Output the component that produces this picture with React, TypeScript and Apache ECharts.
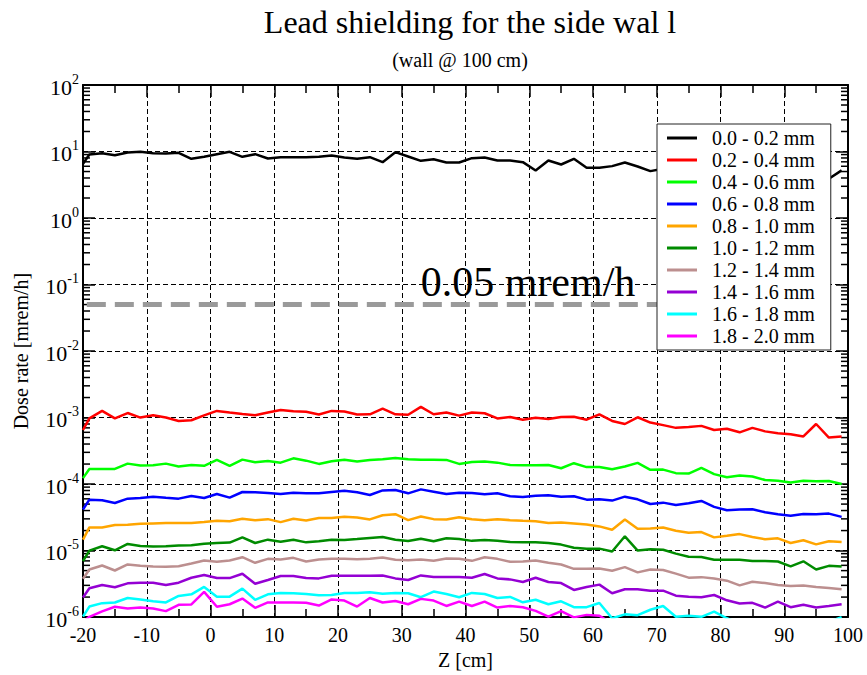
import React, { useEffect, useRef } from "react";
import * as echarts from "echarts";

const FONT = "Liberation Serif";

// Z positions of the samples [cm]
const Z = [-20, -19, -17, -15, -13, -11, -9, -7, -5, -3, -1, 1, 3, 5, 7, 9, 11, 13, 15, 17, 19, 21, 23, 25, 27, 29, 31, 33, 35, 37, 39, 41, 43, 45, 47, 49, 51, 53, 55, 57, 59, 61, 63, 65, 67, 69, 71, 73, 75, 77, 79, 81, 83, 85, 87, 89, 91, 93, 95, 97, 99];

const S00_02 = [6.53, 9.02, 9.44, 8.81, 9.66, 9.89, 9.44, 9.33, 9.55, 7.76, 8.32, 9.12, 9.89, 8.32, 9.12, 7.85, 8.22, 8.22, 8.22, 8.32, 8.71, 8.13, 7.76, 8.22, 6.92, 9.77, 8.41, 7.24, 7.67, 6.84, 6.84, 7.94, 8.13, 7.33, 7.33, 6.92, 5.19, 7.33, 6.38, 7.76, 5.69, 5.69, 6.03, 6.84, 5.96, 5.07, 5.5, 5.2, 4.9, 5.3, 4.7, 4.5, 4.8, 4.4, 4.2, 4.6, 4.1, 4.3, 4.0, 3.9, 5.2];
const S02_04 = [6.5e-4, 9.7e-4, 1.26e-3, 9.7e-4, 1.17e-3, 1.0e-3, 1.08e-3, 1.0e-3, 8.9e-4, 9.1e-4, 1.08e-3, 1.26e-3, 1.19e-3, 1.13e-3, 1.08e-3, 1.19e-3, 1.3e-3, 1.24e-3, 1.22e-3, 1.11e-3, 1.26e-3, 1.23e-3, 1.11e-3, 1.12e-3, 1.36e-3, 1.12e-3, 1.1e-3, 1.45e-3, 1.12e-3, 1.19e-3, 1.07e-3, 1.19e-3, 1.16e-3, 9.7e-4, 1.02e-3, 9.3e-4, 9.9e-4, 9.5e-4, 1.02e-3, 1.03e-3, 9.3e-4, 1.12e-3, 8.9e-4, 8.0e-4, 1.01e-3, 8.4e-4, 7.7e-4, 7.0e-4, 7.2e-4, 7.5e-4, 6.5e-4, 6.8e-4, 6.0e-4, 7.0e-4, 6.2e-4, 5.8e-4, 5.6e-4, 5.2e-4, 8.0e-4, 5.0e-4, 5.2e-4];
const S04_06 = [1.23e-4, 1.69e-4, 1.69e-4, 1.69e-4, 2.03e-4, 1.9e-4, 1.92e-4, 2.03e-4, 1.84e-4, 1.94e-4, 1.88e-4, 2.31e-4, 1.88e-4, 2.33e-4, 2.13e-4, 2.23e-4, 2.1e-4, 2.44e-4, 2.25e-4, 2.01e-4, 2.2e-4, 2.33e-4, 2.18e-4, 2.31e-4, 2.36e-4, 2.47e-4, 2.36e-4, 2.33e-4, 2.33e-4, 2.31e-4, 2.01e-4, 2.15e-4, 2.18e-4, 2.1e-4, 1.94e-4, 1.92e-4, 1.92e-4, 1.94e-4, 1.73e-4, 2.06e-4, 1.8e-4, 1.8e-4, 1.67e-4, 1.84e-4, 2.08e-4, 1.64e-4, 1.65e-4, 1.46e-4, 1.44e-4, 1.75e-4, 1.41e-4, 1.27e-4, 1.35e-4, 1.3e-4, 1.15e-4, 1.12e-4, 1.06e-4, 1.12e-4, 1.1e-4, 1.11e-4, 1.0e-4];
const S06_08 = [4.14e-5, 5.83e-5, 5.7e-5, 5.2e-5, 6.04e-5, 6.18e-5, 6.47e-5, 6.25e-5, 6.04e-5, 6.62e-5, 6.18e-5, 7.1e-5, 6.25e-5, 7.6e-5, 7.51e-5, 7.34e-5, 7.1e-5, 7.42e-5, 7.26e-5, 7.26e-5, 7.6e-5, 7.95e-5, 7.51e-5, 6.85e-5, 8.04e-5, 8.13e-5, 7.26e-5, 8.32e-5, 7.69e-5, 7.1e-5, 7.42e-5, 7.34e-5, 7.01e-5, 7.26e-5, 6.55e-5, 6.4e-5, 6.7e-5, 6.77e-5, 6.47e-5, 6.55e-5, 5.83e-5, 5.9e-5, 5.64e-5, 6.47e-5, 5.9e-5, 5.02e-5, 5.26e-5, 4.86e-5, 5.14e-5, 5.57e-5, 4.54e-5, 4.05e-5, 4.14e-5, 4.18e-5, 3.78e-5, 3.52e-5, 3.33e-5, 3.56e-5, 3.52e-5, 3.6e-5, 3.21e-5];
const S08_10 = [1.46e-5, 2.23e-5, 2.23e-5, 2.42e-5, 2.44e-5, 2.53e-5, 2.56e-5, 2.59e-5, 2.59e-5, 2.59e-5, 2.68e-5, 2.81e-5, 2.77e-5, 3.01e-5, 2.87e-5, 2.97e-5, 2.68e-5, 3.01e-5, 2.84e-5, 3.08e-5, 3.08e-5, 3.22e-5, 3.15e-5, 2.94e-5, 3.4e-5, 3.52e-5, 2.87e-5, 3.25e-5, 2.97e-5, 2.94e-5, 3.18e-5, 2.97e-5, 2.87e-5, 2.97e-5, 2.87e-5, 2.81e-5, 2.77e-5, 2.59e-5, 2.65e-5, 2.56e-5, 2.47e-5, 2.31e-5, 2.06e-5, 2.94e-5, 2.13e-5, 2.15e-5, 2.23e-5, 1.99e-5, 1.86e-5, 1.9e-5, 1.58e-5, 1.67e-5, 1.77e-5, 1.6e-5, 1.48e-5, 1.53e-5, 1.3e-5, 1.43e-5, 1.24e-5, 1.38e-5, 1.35e-5];
const S10_12 = [6.93e-6, 1.0e-5, 1.16e-5, 1.01e-5, 1.26e-5, 1.17e-5, 1.15e-5, 1.16e-5, 1.19e-5, 1.2e-5, 1.27e-5, 1.3e-5, 1.32e-5, 1.58e-5, 1.3e-5, 1.46e-5, 1.36e-5, 1.46e-5, 1.33e-5, 1.38e-5, 1.46e-5, 1.44e-5, 1.49e-5, 1.55e-5, 1.6e-5, 1.46e-5, 1.39e-5, 1.51e-5, 1.38e-5, 1.53e-5, 1.49e-5, 1.4e-5, 1.44e-5, 1.41e-5, 1.35e-5, 1.33e-5, 1.33e-5, 1.3e-5, 1.23e-5, 1.1e-5, 1.07e-5, 1.07e-5, 9.7e-6, 1.64e-5, 1.0e-5, 1.05e-5, 1.03e-5, 9.0e-6, 8.1e-6, 8.0e-6, 7.3e-6, 7.3e-6, 7.3e-6, 6.95e-6, 6.95e-6, 6.85e-6, 5.8e-6, 6.9e-6, 5.2e-6, 5.9e-6, 5.75e-6];
const S12_14 = [3.78e-6, 5.2e-6, 5.97e-6, 5.02e-6, 6.18e-6, 5.9e-6, 5.77e-6, 5.7e-6, 5.83e-6, 6.4e-6, 7.1e-6, 6.78e-6, 7.1e-6, 7.95e-6, 6.55e-6, 7.51e-6, 7.34e-6, 7.78e-6, 6.85e-6, 7.34e-6, 7.51e-6, 7.51e-6, 7.42e-6, 7.51e-6, 7.86e-6, 7.26e-6, 7.18e-6, 7.34e-6, 7.01e-6, 7.6e-6, 7.51e-6, 7.01e-6, 7.95e-6, 7.51e-6, 6.78e-6, 6.85e-6, 7.1e-6, 6.55e-6, 6.18e-6, 5.32e-6, 5.32e-6, 5.38e-6, 4.97e-6, 5.64e-6, 4.7e-6, 5.2e-6, 5.1e-6, 4.5e-6, 3.92e-6, 3.99e-6, 3.8e-6, 3.53e-6, 3.0e-6, 3.4e-6, 3.25e-6, 3.05e-6, 2.93e-6, 2.98e-6, 2.83e-6, 2.73e-6, 2.63e-6];
const S14_16 = [1.97e-6, 2.71e-6, 3.04e-6, 2.81e-6, 3.22e-6, 3.29e-6, 3.29e-6, 3.04e-6, 3.29e-6, 3.91e-6, 4.29e-6, 3.86e-6, 3.86e-6, 4.49e-6, 3.18e-6, 3.61e-6, 4.14e-6, 4.14e-6, 3.86e-6, 3.82e-6, 4.18e-6, 4.18e-6, 4.18e-6, 4.18e-6, 4.23e-6, 3.82e-6, 3.61e-6, 4.23e-6, 4.0e-6, 4.0e-6, 4.0e-6, 3.91e-6, 4.44e-6, 3.82e-6, 3.69e-6, 3.37e-6, 3.91e-6, 3.37e-6, 3.25e-6, 2.56e-6, 2.84e-6, 3.08e-6, 2.28e-6, 2.62e-6, 2.62e-6, 2.5e-6, 2.5e-6, 2.1e-6, 2.03e-6, 1.99e-6, 2.15e-6, 1.79e-6, 1.6e-6, 1.64e-6, 1.39e-6, 1.71e-6, 1.41e-6, 1.53e-6, 1.39e-6, 1.47e-6, 1.56e-6];
const S16_18 = [1.02e-6, 1.44e-6, 1.62e-6, 1.66e-6, 1.94e-6, 1.84e-6, 1.73e-6, 1.66e-6, 2.08e-6, 2.2e-6, 2.84e-6, 2.03e-6, 2.03e-6, 2.68e-6, 1.82e-6, 2.2e-6, 2.31e-6, 2.28e-6, 2.23e-6, 2.13e-6, 2.15e-6, 2.31e-6, 2.31e-6, 2.36e-6, 2.25e-6, 2.31e-6, 2.28e-6, 1.99e-6, 2.42e-6, 2.23e-6, 1.99e-6, 2.31e-6, 2.23e-6, 1.94e-6, 2.01e-6, 1.67e-6, 1.82e-6, 1.56e-6, 1.73e-6, 1.41e-6, 1.41e-6, 1.63e-6, 0.96e-6, 1.1e-6, 1.07e-6, 1.29e-6, 1.47e-6, 1.01e-6, 1.05e-6, 1.01e-6, 1.21e-6, 0.96e-6, 0.8e-6, 0.82e-6, 0.78e-6, 0.8e-6, 0.76e-6, 0.79e-6, 0.8e-6, 0.85e-6, 1.0e-6];
const S18_20 = [0.85e-6, 1.01e-6, 1.22e-6, 1.43e-6, 1.35e-6, 1.39e-6, 1.35e-6, 1.23e-6, 1.53e-6, 1.55e-6, 2.39e-6, 1.43e-6, 1.56e-6, 1.9e-6, 1.38e-6, 1.66e-6, 1.66e-6, 1.66e-6, 1.64e-6, 1.49e-6, 1.84e-6, 1.77e-6, 1.44e-6, 1.94e-6, 1.66e-6, 1.75e-6, 1.56e-6, 1.88e-6, 1.77e-6, 1.47e-6, 1.71e-6, 1.47e-6, 1.71e-6, 1.39e-6, 1.47e-6, 1.41e-6, 1.24e-6, 1.02e-6, 1.23e-6, 0.99e-6, 1.08e-6, 1.05e-6, 0.8e-6, 0.75e-6, 0.72e-6, 0.7e-6, 0.72e-6, 0.7e-6, 0.68e-6, 0.7e-6, 0.66e-6, 0.65e-6, 0.64e-6, 0.62e-6, 0.6e-6, 0.62e-6, 0.6e-6, 0.58e-6, 0.6e-6, 0.57e-6, 0.58e-6];

const NAMES = ["0.0 - 0.2 mm", "0.2 - 0.4 mm", "0.4 - 0.6 mm", "0.6 - 0.8 mm", "0.8 - 1.0 mm", "1.0 - 1.2 mm", "1.2 - 1.4 mm", "1.4 - 1.6 mm", "1.6 - 1.8 mm", "1.8 - 2.0 mm"];
const VALUES = [S00_02, S02_04, S04_06, S06_08, S08_10, S10_12, S12_14, S14_16, S16_18, S18_20];
const COLORS = ["#000000", "#ff0000", "#00ff00", "#0000ff", "#ffa500", "#008b00", "#bc8f8f", "#9400d3", "#00ffff", "#ff00ff"];

const LIMIT = 0.05;
const LIMIT_Z = [-19.4, 90];
const LIMIT_LABEL = "0.05 mrem/h";

const X_MIN = -20;
const X_MAX = 100;
const Y_MIN = 1e-6;
const Y_MAX = 100;
const DECADES = [-6, -5, -4, -3, -2, -1, 0, 1];
const MINOR_MULT = [2, 3, 4, 5, 6, 7, 8, 9];

export default function App() {
  const ref = useRef<HTMLDivElement>(null);
  useEffect(() => {
    if (!ref.current) return;
    const chart = echarts.init(ref.current, null, { renderer: "svg" });
    const minorTicks: number[][] = [];
    DECADES.forEach((d) => MINOR_MULT.forEach((m) => minorTicks.push([X_MIN, m * Math.pow(10, d)])));

    const axisLine = { show: true, onZero: false, lineStyle: { color: "#000", width: 2 } };
    const xTick = { show: true, inside: true, length: 12, lineStyle: { color: "#000", width: 1.5 } };
    const xMinor = { show: true, splitNumber: 2, length: 8, lineStyle: { color: "#000", width: 1.5 } };
    const grid = { show: true, lineStyle: { color: "#000", type: [5, 3], width: 1 } };

    const series: any[] = VALUES.map((vals, i) => ({
      name: NAMES[i],
      type: "line",
      data: Z.map((z, j) => [z, vals[j]]),
      symbol: "none",
      showSymbol: false,
      clip: true,
      lineStyle: { color: COLORS[i], width: 2.5 },
      itemStyle: { color: COLORS[i] },
      z: 3,
    }));
    series.push({
      name: "limit",
      type: "line",
      data: LIMIT_Z.map((z) => [z, LIMIT]),
      symbol: "none",
      silent: true,
      lineStyle: { color: "#9a9a9a", width: 5, type: [19, 9] },
      z: 2,
    });
    series.push({
      name: "minor",
      type: "custom",
      data: minorTicks,
      encode: { x: 0, y: 1 },
      silent: true,
      clip: false,
      renderItem: (params: any, api: any) => {
        const v = api.value(1);
        const pl = api.coord([X_MIN, v]);
        const pr = api.coord([X_MAX, v]);
        const st = { stroke: "#000", lineWidth: 1.5 };
        return {
          type: "group",
          children: [
            { type: "line", shape: { x1: pl[0], y1: pl[1], x2: pl[0] + 7, y2: pl[1] }, style: st },
            { type: "line", shape: { x1: pr[0] - 7, y1: pr[1], x2: pr[0], y2: pr[1] }, style: st },
          ],
        };
      },
    });

    chart.setOption({
      animation: false,
      backgroundColor: "#fff",
      textStyle: { fontFamily: FONT },
      grid: { left: 83, top: 85, width: 765, height: 536, containLabel: false },
      graphic: [
        { type: "text", x: 470, y: 22, style: { text: "Lead shielding for the side wal l", fontFamily: FONT, fontSize: 32, fill: "#000", align: "center", verticalAlign: "middle" } },
        { type: "text", x: 460, y: 60, style: { text: "(wall @ 100 cm)", fontFamily: FONT, fontSize: 20, fill: "#000", align: "center", verticalAlign: "middle" } },
        { type: "text", x: 528, y: 282, z: 1, style: { text: LIMIT_LABEL, fontFamily: FONT, fontSize: 42, fill: "#000", align: "center", verticalAlign: "middle" } },
      ],
      legend: {
        data: NAMES,
        orient: "vertical",
        left: 657,
        top: 124,
        padding: [4, 16, 4, 10],
        itemGap: 2,
        itemWidth: 30,
        itemHeight: 3,
        icon: "rect",
        backgroundColor: "#fff",
        borderColor: "#222",
        borderWidth: 1,
        borderRadius: 0,
        textStyle: { fontFamily: FONT, fontSize: 20, color: "#000", padding: [0, 0, 0, 10] },
        z: 10,
      },
      xAxis: [
        {
          type: "value", min: X_MIN, max: X_MAX, interval: 10, position: "bottom",
          axisLine, axisTick: xTick, minorTick: xMinor, splitLine: grid,
          axisLabel: { fontFamily: FONT, fontSize: 20, color: "#000", margin: 8 },
          name: "Z [cm]", nameLocation: "middle", nameGap: 30,
          nameTextStyle: { fontFamily: FONT, fontSize: 20, color: "#000" },
        },
        {
          type: "value", min: X_MIN, max: X_MAX, interval: 10, position: "top",
          axisLine, axisTick: xTick, minorTick: xMinor, splitLine: { show: false },
          axisLabel: { show: false },
        },
      ],
      yAxis: [
        {
          type: "log", logBase: 10, min: Y_MIN, max: Y_MAX, splitNumber: 8, position: "left",
          axisLine, axisTick: { show: true, inside: true, length: 12, lineStyle: { color: "#000", width: 1.5 } },
          splitLine: grid,
          axisLabel: {
            margin: 4,
            formatter: (v: number) => `{b|10}{e|${Math.round(Math.log10(v))}}`,
            rich: {
              b: { fontFamily: FONT, fontSize: 22, color: "#000", lineHeight: 26, verticalAlign: "bottom" },
              e: { fontFamily: FONT, fontSize: 14, color: "#000", lineHeight: 14, verticalAlign: "top" },
            },
          },
          name: "Dose rate [mrem/h]", nameLocation: "middle", nameGap: 52, nameRotate: 90,
          nameTextStyle: { fontFamily: FONT, fontSize: 20, color: "#000" },
        },
        {
          type: "log", logBase: 10, min: Y_MIN, max: Y_MAX, splitNumber: 8, position: "right",
          axisLine, axisTick: { show: true, inside: true, length: 12, lineStyle: { color: "#000", width: 1.5 } },
          splitLine: { show: false }, axisLabel: { show: false },
        },
      ],
      series,
    });
    return () => chart.dispose();
  }, []);
  return <div ref={ref} style={{ position: "fixed", left: 0, top: 0, width: 867, height: 675, background: "#fff" }} />;
}
